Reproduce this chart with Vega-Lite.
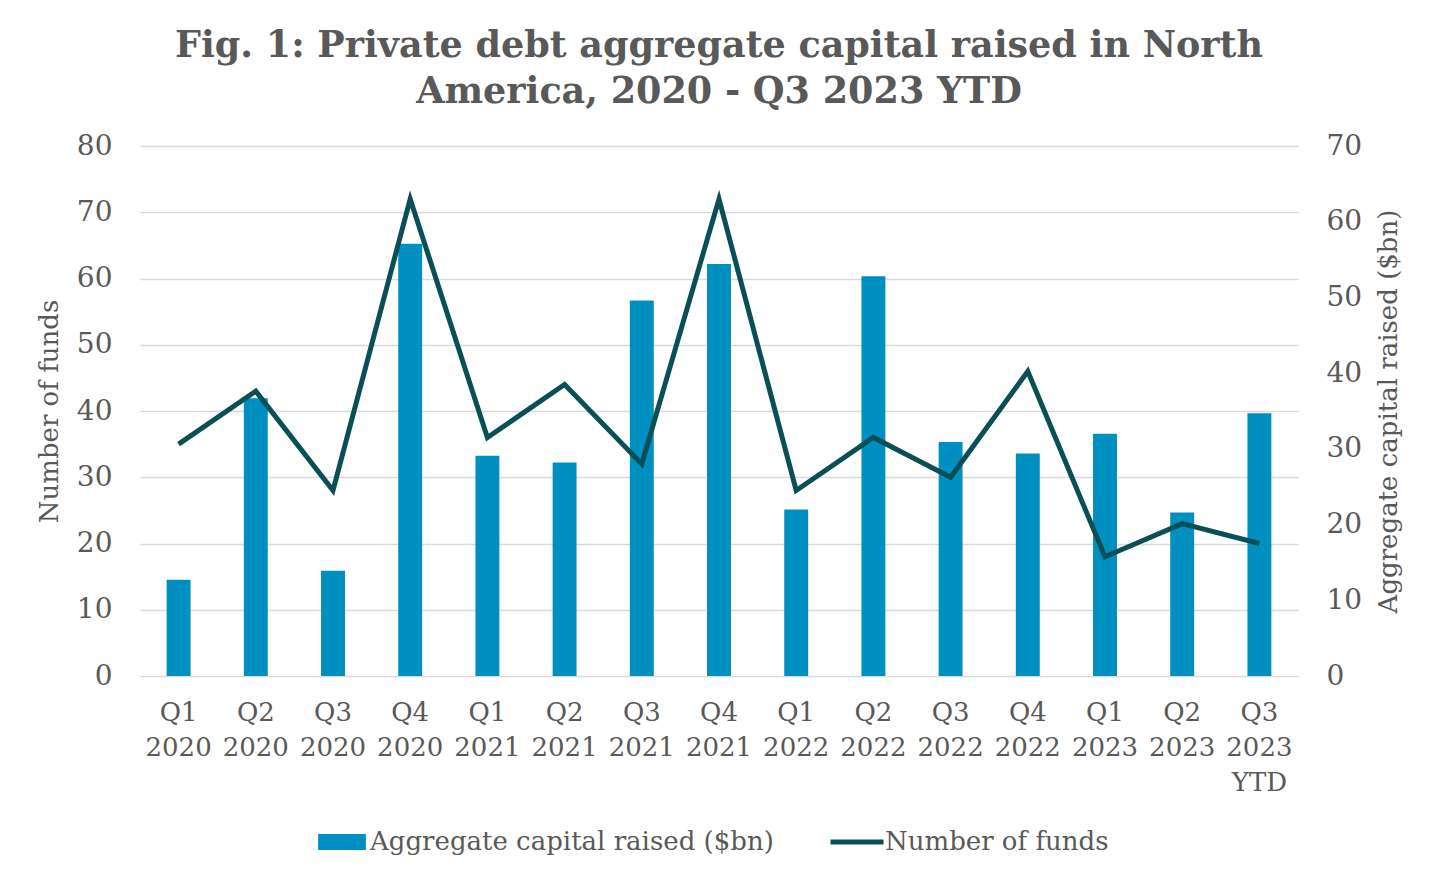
{
  "$schema": "https://vega.github.io/schema/vega-lite/v6.json",
  "width": 1158,
  "height": 530,
  "autosize": "none",
  "padding": {"left": 140, "top": 146, "right": 142, "bottom": 208},
  "background": "white",
  "title": {
    "text": ["Fig. 1: Private debt aggregate capital raised in North", "America, 2020 - Q3 2023 YTD"],
    "font": "DejaVu Serif",
    "fontSize": 36.5,
    "fontWeight": "bold",
    "color": "#595959",
    "lineHeight": 46,
    "anchor": "middle",
    "offset": 22
  },
  "data": {
    "values": [
      {"quarter": "Q1 2020", "capital": 12.7, "funds": 35},
      {"quarter": "Q2 2020", "capital": 36.7, "funds": 43},
      {"quarter": "Q3 2020", "capital": 13.9, "funds": 28},
      {"quarter": "Q4 2020", "capital": 57.1, "funds": 72},
      {"quarter": "Q1 2021", "capital": 29.1, "funds": 36},
      {"quarter": "Q2 2021", "capital": 28.2, "funds": 44},
      {"quarter": "Q3 2021", "capital": 49.6, "funds": 32},
      {"quarter": "Q4 2021", "capital": 54.4, "funds": 72},
      {"quarter": "Q1 2022", "capital": 22.0, "funds": 28},
      {"quarter": "Q2 2022", "capital": 52.8, "funds": 36},
      {"quarter": "Q3 2022", "capital": 30.9, "funds": 30},
      {"quarter": "Q4 2022", "capital": 29.4, "funds": 46},
      {"quarter": "Q1 2023", "capital": 32.0, "funds": 18},
      {"quarter": "Q2 2023", "capital": 21.6, "funds": 23},
      {"quarter": "Q3 2023 YTD", "capital": 34.7, "funds": 20}
    ]
  },
  "encoding": {
    "x": {
      "field": "quarter",
      "type": "nominal",
      "sort": null,
      "title": null,
      "scale": {"paddingInner": 0.69, "paddingOuter": 0.345},
      "axis": {
        "labelAngle": 0,
        "labelExpr": "split(datum.label, ' ')",
        "labelFont": "DejaVu Serif",
        "labelFontSize": 26,
        "labelColor": "#595959",
        "labelLineHeight": 35,
        "labelPadding": 23,
        "domain": false,
        "ticks": false
      }
    }
  },
  "layer": [
    {
      "mark": {"type": "bar"},
      "encoding": {
        "y": {
          "field": "capital",
          "type": "quantitative",
          "scale": {"domain": [0, 70]},
          "axis": {
            "orient": "right",
            "title": "Aggregate capital raised ($bn)",
            "titleAngle": 270,
            "titleBaseline": "top",
            "values": [0, 10, 20, 30, 40, 50, 60, 70],
            "grid": false,
            "domain": false,
            "ticks": false,
            "labelFont": "DejaVu Serif",
            "labelFontSize": 28,
            "labelColor": "#595959",
            "labelPadding": 28,
            "titleFont": "DejaVu Serif",
            "titleFontSize": 26,
            "titleFontWeight": "normal",
            "titleColor": "#595959",
            "titlePadding": 14
          }
        },
        "color": {
          "datum": "Aggregate capital raised ($bn)",
          "scale": {
            "domain": ["Aggregate capital raised ($bn)", "Number of funds"],
            "range": ["#008FC1", "#0B4F56"]
          },
          "legend": {
            "title": null,
            "orient": "bottom",
            "direction": "horizontal",
            "symbolSize": 2809,
            "columnPadding": 46,
            "labelOffset": 15,
            "labelLimit": 800,
            "labelFont": "DejaVu Serif",
            "labelFontSize": 26,
            "labelColor": "#595959",
            "offset": 34,
            "encode": {
              "symbols": {
                "update": {
                  "shape": {"signal": "datum.value === 'Number of funds' ? 'stroke' : 'M-0.9,-0.3H0.9V0.3H-0.9Z'"},
                  "fill": {"scale": "color", "field": "value"},
                  "stroke": {"scale": "color", "field": "value"},
                  "strokeWidth": {"signal": "datum.value === 'Number of funds' ? 5 : 0"},
                  "opacity": {"value": 1},
                  "fillOpacity": {"value": 1},
                  "strokeOpacity": {"value": 1}
                }
              }
            }
          }
        }
      }
    },
    {
      "mark": {"type": "line", "strokeWidth": 5},
      "encoding": {
        "y": {
          "field": "funds",
          "type": "quantitative",
          "scale": {"domain": [0, 80]},
          "axis": {
            "orient": "left",
            "title": "Number of funds",
            "values": [0, 10, 20, 30, 40, 50, 60, 70, 80],
            "grid": true,
            "gridColor": "#d9d9d9",
            "gridWidth": 1.5,
            "domain": false,
            "ticks": false,
            "labelFont": "DejaVu Serif",
            "labelFontSize": 28,
            "labelColor": "#595959",
            "labelPadding": 28,
            "titleFont": "DejaVu Serif",
            "titleFontSize": 26,
            "titleFontWeight": "normal",
            "titleColor": "#595959",
            "titlePadding": 14
          }
        },
        "color": {"datum": "Number of funds"}
      }
    }
  ],
  "resolve": {"scale": {"y": "independent"}},
  "config": {
    "view": {"stroke": null},
    "legend": {"layout": {"bottom": {"anchor": "middle"}}}
  }
}
